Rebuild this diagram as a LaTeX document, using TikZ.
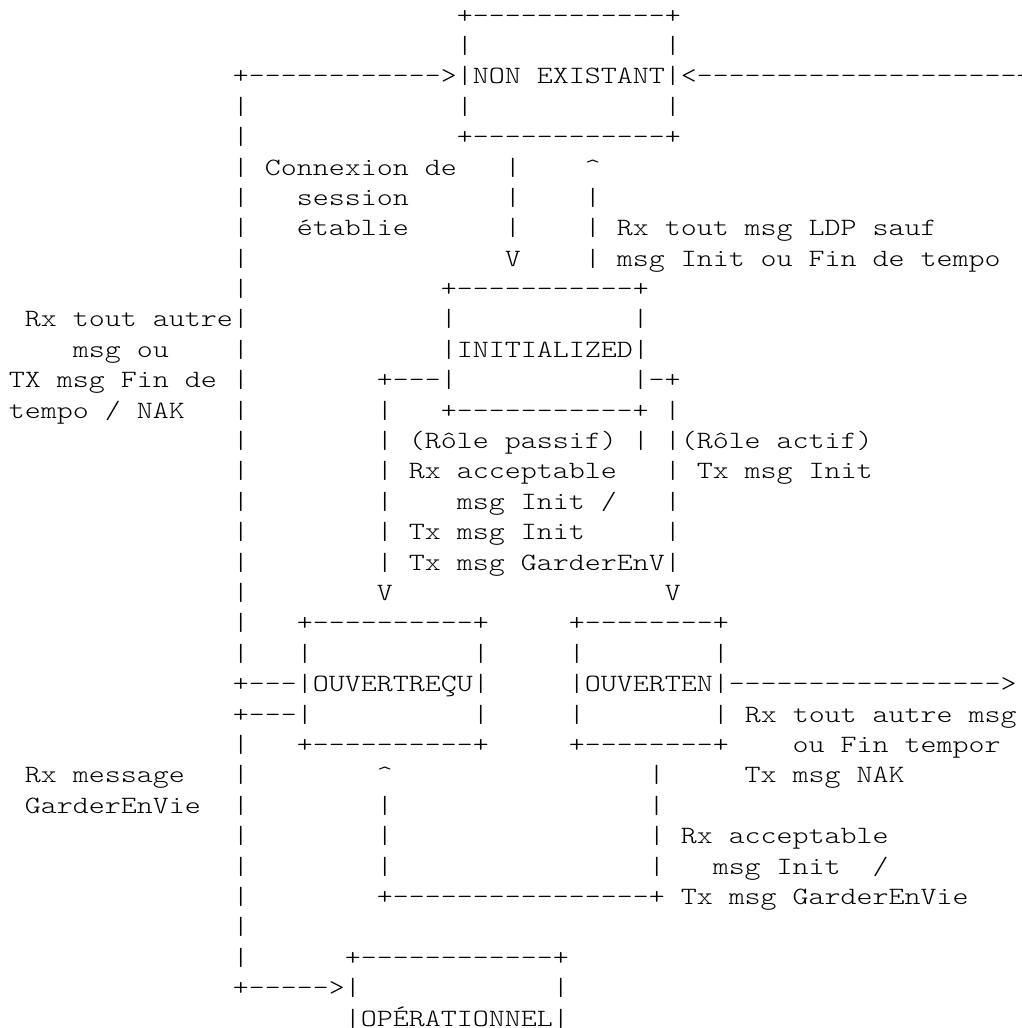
\documentclass[tikz,border=0pt]{standalone}
\usepackage{fontspec}
\newfontfamily\asciifont{lmmonolt10-regular.otf}[FakeStretch=1.2245]
\tikzset{
  ascii/.style = {anchor=base west, inner sep=0pt, text=black,
    font=\asciifont\fontsize{18.66pt}{22.8pt}\selectfont},
}
\begin{document}
\begin{tikzpicture}[x=12pt, y=-22.8pt]
  \useasboundingbox (-0.544,0.2434) rectangle (63.27,34.06);
  \clip (-0.544,0.2434) rectangle (63.27,34.06);
  \node [ascii] (r1) at (28,1) {+------------+};
  \node [ascii] (r2) at (28,2) {|~~~~~~~~~~~~|};
  \node [ascii] (r3) at (14,3) {+------------>|NON EXISTANT|<--------------------+};
  \node [ascii] (r4) at (14,4) {|~~~~~~~~~~~~~|~~~~~~~~~~~~|};
  \node [ascii] (r5) at (14,5) {|~~~~~~~~~~~~~+------------+};
  \node [ascii] (r6) at (14,6) {|~Connexion de~~~|~~~~\textasciicircum};
  \node [ascii] (r7) at (14,7) {|~~~session~~~~~~|~~~~|};
  \node [ascii] (r8) at (14,8) {|~~~établie~~~~~~|~~~~|~Rx tout msg LDP sauf};
  \node [ascii] (r9) at (14,9) {|~~~~~~~~~~~~~~~~V~~~~|~msg Init ou Fin de tempo};
  \node [ascii] (r10) at (14,10) {|~~~~~~~~~~~~+-----------+};
  \node [ascii] (r11) at (1,11) {Rx tout autre|~~~~~~~~~~~~|~~~~~~~~~~~|};
  \node [ascii] (r12) at (4,12) {msg ou~~~~|~~~~~~~~~~~~|INITIALIZED|};
  \node [ascii] (r13) at (0,13) {TX msg Fin de~|~~~~~~~~+---|~~~~~~~~~~~|-+};
  \node [ascii] (r14) at (0,14) {tempo / NAK~~~|~~~~~~~~|~~~+-----------+~|};
  \node [ascii] (r15) at (14,15) {|~~~~~~~~|~(Rôle passif)~|~|(Rôle actif)};
  \node [ascii] (r16) at (14,16) {|~~~~~~~~|~Rx acceptable~~~|~Tx msg Init};
  \node [ascii] (r17) at (14,17) {|~~~~~~~~|~~~~msg Init~/~~~|};
  \node [ascii] (r18) at (14,18) {|~~~~~~~~|~Tx msg Init~~~~~|};
  \node [ascii] (r19) at (14,19) {|~~~~~~~~|~Tx msg GarderEnV|};
  \node [ascii] (r20) at (14,20) {|~~~~~~~~V~~~~~~~~~~~~~~~~~V};
  \node [ascii] (r21) at (14,21) {|~~~+----------+~~~~~+--------+};
  \node [ascii] (r22) at (14,22) {|~~~|~~~~~~~~~~|~~~~~|~~~~~~~~|};
  \node [ascii] (r23) at (14,23) {+---|OUVERTREÇU|~~~~~|OUVERTEN|----------------->};
  \node [ascii] (r24) at (14,24) {+---|~~~~~~~~~~|~~~~~|~~~~~~~~|~Rx tout autre msg};
  \node [ascii] (r25) at (14,25) {|~~~+----------+~~~~~+--------+~~~~ou Fin tempor};
  \node [ascii] (r26) at (1,26) {Rx message~~~|~~~~~~~~\textasciicircum~~~~~~~~~~~~~~~~|~~~~~Tx msg NAK};
  \node [ascii] (r27) at (1,27) {GarderEnVie~~|~~~~~~~~|~~~~~~~~~~~~~~~~|};
  \node [ascii] (r28) at (14,28) {|~~~~~~~~|~~~~~~~~~~~~~~~~|~Rx acceptable};
  \node [ascii] (r29) at (14,29) {|~~~~~~~~|~~~~~~~~~~~~~~~~|~~~msg Init~~/};
  \node [ascii] (r30) at (14,30) {|~~~~~~~~+----------------+~Tx msg GarderEnVie};
  \node [ascii] (r31) at (14,31) {|};
  \node [ascii] (r32) at (14,32) {|~~~~~~+------------+};
  \node [ascii] (r33) at (14,33) {+----->|~~~~~~~~~~~~|};
  \node [ascii] (r34) at (21,34) {|OPÉRATIONNEL|};
\end{tikzpicture}
\end{document}
